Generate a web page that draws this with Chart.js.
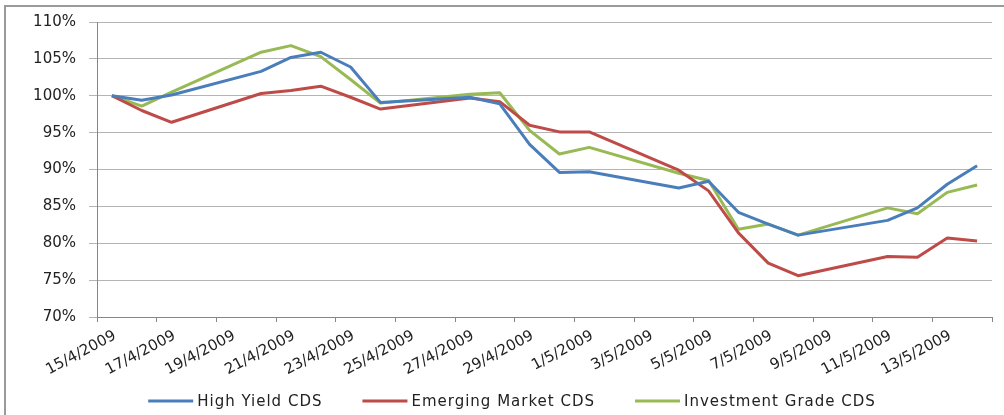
<!DOCTYPE html>
<html>
<head>
<meta charset="utf-8">
<script src="https://cdn.jsdelivr.net/npm/chart.js@4.4.1/dist/chart.umd.min.js"></script>
<style>
  html, body { margin:0; padding:0; background:#fff; }
  #wrap { position:relative; width:1004px; height:415px; }
  #frame { position:absolute; left:4px; top:5px; right:0; bottom:0; border-left:2px solid #9a9a9a; border-top:2px solid #9a9a9a; }
  canvas { position:absolute; left:0; top:0; }
</style>
</head>
<body>
<div id="wrap">
  <div id="frame"></div>
  <canvas id="cdsChart" width="1004" height="415"></canvas>
</div>
<script>
// tick labels every two days along the date axis
const tickLabels = ['15/4/2009','17/4/2009','19/4/2009','21/4/2009','23/4/2009','25/4/2009','27/4/2009',
  '29/4/2009','1/5/2009','3/5/2009','5/5/2009','7/5/2009','9/5/2009','11/5/2009','13/5/2009'];

// trading days that carry a value
const tradeDates = ['15/4/2009','16/4/2009','17/4/2009','20/4/2009','21/4/2009','22/4/2009','23/4/2009',
  '24/4/2009','27/4/2009','28/4/2009','29/4/2009','30/4/2009','1/5/2009','4/5/2009','5/5/2009','6/5/2009',
  '7/5/2009','8/5/2009','11/5/2009','12/5/2009','13/5/2009','14/5/2009'];

const highYield  = [100, 99.4, 100.1, 103.3, 105.2, 105.9, 103.9, 99.1, 99.8, 98.9, 93.4, 89.6, 89.7, 87.5, 88.4, 84.2, 82.6, 81.1, 83.1, 84.8, 88.0, 90.5];
const emerging   = [100, 98.0, 96.4, 100.3, 100.7, 101.3, 99.8, 98.2, 99.7, 99.2, 96.0, 95.1, 95.1, 89.9, 87.1, 81.4, 77.3, 75.6, 78.2, 78.1, 80.7, 80.3];
const investment = [100, 98.6, 100.5, 105.9, 106.8, 105.3, 102.2, 99.0, 100.2, 100.4, 95.3, 92.1, 93.0, 89.5, 88.5, 81.9, 82.6, 81.1, 84.8, 84.0, 86.9, 87.9];

// day number counted from the first date
function dayIndex(s){
  const p = s.split('/').map(Number);
  const d = Date.UTC(p[2], p[1]-1, p[0]);
  return Math.round((d - Date.UTC(2009,3,15)) / 86400000);
}
const dayNums = tradeDates.map(dayIndex);
const toPoints = vals => vals.map((v,i)=>({x:dayNums[i], y:v}));

const axisGrey = '#868686';

// excel-like legend: long line sample, wide gaps between entries
const lineLegend = {
  id:'lineLegend',
  afterDraw(chart){
    const ctx = chart.ctx, y = 401, gap = 40, sample = 45, pad = 4;
    ctx.save();
    ctx.font = '15px "DejaVu Sans"';
    ctx.letterSpacing = '1px';
    const sets = chart.data.datasets;
    const widths = sets.map(d => ctx.measureText(d.label).width);
    let total = widths.reduce((a,w)=>a+sample+pad+w, 0) + gap*(sets.length-1);
    let x = 512 - total/2;
    sets.forEach((d,i)=>{
      ctx.strokeStyle = d.borderColor; ctx.lineWidth = 3;
      ctx.beginPath(); ctx.moveTo(x, y); ctx.lineTo(x+sample, y); ctx.stroke();
      ctx.fillStyle = '#222'; ctx.textBaseline = 'middle'; ctx.textAlign = 'left';
      ctx.fillText(d.label, x+sample+pad, y+1);
      x += sample + pad + widths[i] + gap;
    });
    ctx.restore();
  }
};

new Chart(document.getElementById('cdsChart'), {
  type:'line',
  data:{
    datasets:[
      {label:'High Yield CDS', data:toPoints(highYield), borderColor:'#4A7EBB', backgroundColor:'#4A7EBB'},
      {label:'Emerging Market CDS', data:toPoints(emerging), borderColor:'#BE4B48', backgroundColor:'#BE4B48'},
      {label:'Investment Grade CDS', data:toPoints(investment), borderColor:'#98B954', backgroundColor:'#98B954'}
    ]
  },
  options:{
    responsive:false,
    animation:false,
    elements:{ point:{radius:0}, line:{borderWidth:3, tension:0, borderJoinStyle:'round'} },
    layout:{ padding:{left:0, right:12, top:19, bottom:27} },
    scales:{
      x:{
        type:'linear', min:-0.5, max:29.5,
        afterBuildTicks: s => { s.ticks = []; for(let v=-0.5; v<=29.5; v+=2) s.ticks.push({value:v}); },
        afterFit: s => { s.height = 71; s.paddingLeft = 0; s.paddingRight = 0; },
        grid:{ drawOnChartArea:false, color:axisGrey, tickLength:5 },
        border:{ color:axisGrey },
        ticks:{
          autoSkip:false, minRotation:28, maxRotation:28, labelOffset:18, padding:5,
          color:'#222', font:{family:'DejaVu Sans', size:15},
          callback:(v,i)=> tickLabels[i] || ''
        }
      },
      y:{
        min:70, max:110,
        afterFit: s => { s.width = 97; },
        grid:{ color:'#b4b4b4', tickLength:8 },
        border:{ color:axisGrey },
        ticks:{ stepSize:5, padding:13, color:'#222', font:{family:'DejaVu Sans', size:15}, callback:v=>v+'%' }
      }
    },
    plugins:{
      legend:{ display:false },
      tooltip:{ enabled:false }
    }
  },
  plugins:[lineLegend]
});
</script>
</body>
</html>
